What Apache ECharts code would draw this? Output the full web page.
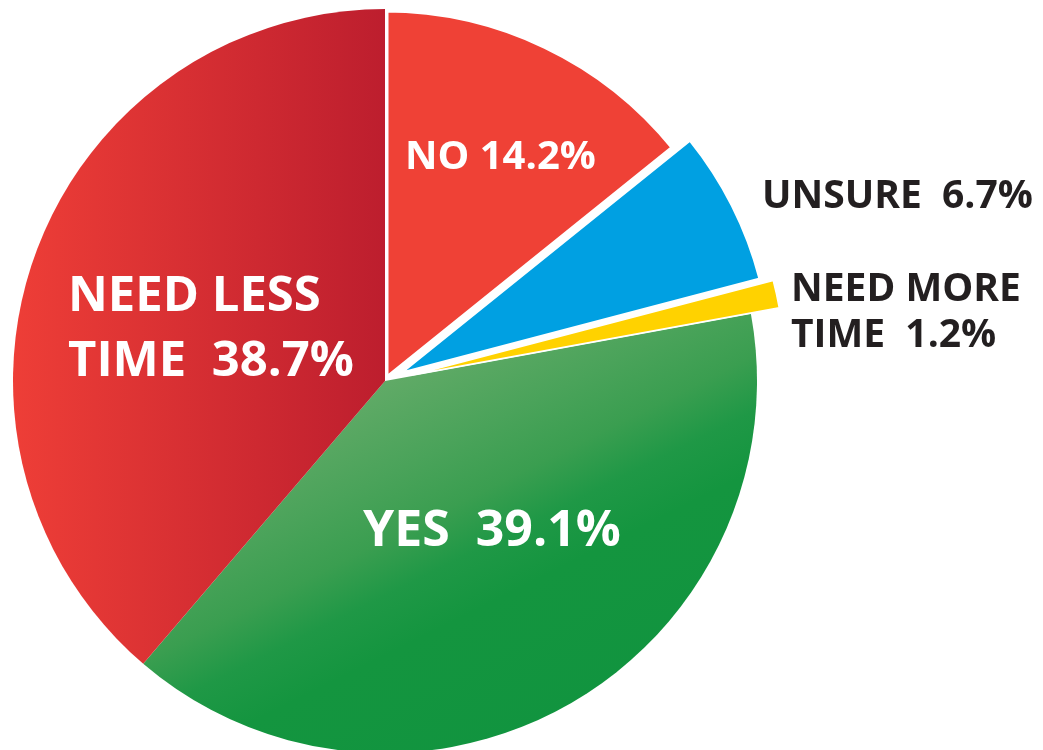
<!DOCTYPE html>
<html>
<head>
<meta charset="utf-8">
<script src="https://cdn.jsdelivr.net/npm/echarts@6/dist/echarts.min.js"></script>
<style>
html,body{margin:0;padding:0;background:#fff;}
#chart{width:1043px;height:750px;}
</style>
</head>
<body>
<div id="chart"></div>
<script>
// ---- data ----
const categories = ['NO', 'UNSURE', 'NEED MORE TIME', 'YES', 'NEED LESS TIME'];
const labelTexts = ['NO', 'UNSURE', 'NEED MORE\nTIME', 'YES', 'NEED LESS\nTIME'];
const values = [14.2, 6.7, 1.2, 39.1, 38.7];

// ---- styling ----
const FONT = '"Open Sans", "Liberation Sans", sans-serif';
const CENTER = [385, 381];
const RADIUS = 372;
const colors = {
  'NO': '#EF4136',
  'UNSURE': '#00A0E2',
  'NEED MORE TIME': '#FFD200',
  'YES': { type: 'linear', global: true, x: 370, y: 355, x2: 554, y2: 723, colorStops: [
    { offset: 0, color: '#68AD6C' }, { offset: 0.05, color: '#63AB68' },
    { offset: 0.28, color: '#4AA35A' }, { offset: 0.42, color: '#3A9E50' },
    { offset: 0.54, color: '#1F9846' }, { offset: 0.67, color: '#14953F' },
    { offset: 1, color: '#11943F' }] },
  'NEED LESS TIME': { type: 'linear', x: 0, y: 0, x2: 1, y2: 0, colorStops: [
    { offset: 0, color: '#EE3E37' }, { offset: 1, color: '#BD1E2E' }] }
};
const borders = { 'NO': 7, 'UNSURE': 3, 'NEED MORE TIME': 1.5, 'YES': 0, 'NEED LESS TIME': 0 };
const labelStyle = {
  'NO':             { x: 405, y: 158, size: 40, lh: 46, color: '#fff', sep: ' ' },
  'UNSURE':         { x: 762, y: 197, size: 39, lh: 46, color: '#231F20', sep: '  ' },
  'NEED MORE TIME': { x: 791, y: 313, size: 39, lh: 46, color: '#231F20', sep: '  ' },
  'YES':            { x: 363, y: 532, size: 50, lh: 60, color: '#fff', sep: '  ' },
  'NEED LESS TIME': { x: 68,  y: 330, size: 49, lh: 65, color: '#fff', sep: '  ' }
};
// which series draws which slice, and how far it is pulled out
const groups = [
  { names: ['NO', 'YES', 'NEED LESS TIME'], offset: 0 },
  { names: ['UNSURE'], offset: 17 },
  { names: ['NEED MORE TIME'], offset: 29 }
];

const total = values.reduce((a, b) => a + b, 0);
function explodedCenter(group) {
  if (!group.offset) return CENTER;
  const idx = categories.indexOf(group.names[0]);
  const before = values.slice(0, idx).reduce((a, b) => a + b, 0);
  const mid = (before + values[idx] / 2) / total * 2 * Math.PI; // clockwise from top
  return [CENTER[0] + Math.sin(mid) * group.offset, CENTER[1] - Math.cos(mid) * group.offset];
}

function buildData(group) {
  return categories.map((name, i) => {
    const visible = group.names.includes(name);
    const ls = labelStyle[name];
    return {
      name: name,
      value: values[i],
      itemStyle: visible
        ? { color: colors[name], borderColor: '#fff', borderWidth: borders[name] }
        : { color: 'rgba(0,0,0,0)', borderWidth: 0 },
      label: visible
        ? { show: true, color: ls.color, fontSize: ls.size, lineHeight: ls.lh,
            formatter: labelTexts[i] + ls.sep + values[i].toFixed(1) + '%' }
        : { show: false }
    };
  });
}

const chart = echarts.init(document.getElementById('chart'), null, { renderer: 'canvas' });
const series = groups.map((g, si) => ({
  type: 'pie',
  center: explodedCenter(g),
  radius: [0, RADIUS],
  startAngle: 90,
  clockwise: true,
  avoidLabelOverlap: false,
  animation: false,
  silent: true,
  z: 2 + si,
  emphasis: { disabled: true, scale: false },
  label: {
    show: true, position: 'inside',
    fontFamily: FONT, fontWeight: 'bold', align: 'left'
  },
  labelLine: { show: false },
  labelLayout: function (params) {
    const ls = labelStyle[categories[params.dataIndex]];
    return { x: ls.x, y: ls.y, align: 'left', verticalAlign: 'middle' };
  },
  data: buildData(g)
}));

chart.setOption({
  backgroundColor: '#ffffff',
  animation: false,
  series: series
});
</script>
</body>
</html>
